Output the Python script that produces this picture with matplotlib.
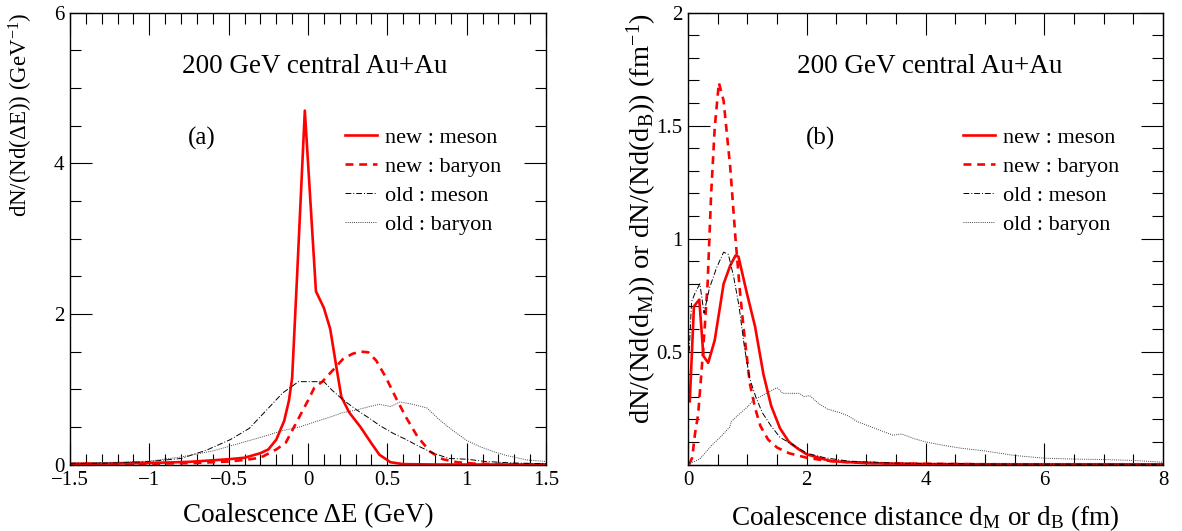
import matplotlib
matplotlib.use('Agg')
import matplotlib.pyplot as plt
from matplotlib.ticker import MultipleLocator, FixedLocator, FixedFormatter

plt.rcParams['font.family'] = ['Liberation Serif', 'DejaVu Serif']
plt.rcParams['mathtext.fontset'] = 'custom'
plt.rcParams['mathtext.rm'] = 'Liberation Serif'
plt.rcParams['mathtext.it'] = 'Liberation Serif:italic'
plt.rcParams['axes.unicode_minus'] = True

# (a) coalescence energy difference
de_new_meson_x = [-1.5, -1.25, -1.0, -0.75, -0.5, -0.4, -0.3, -0.25, -0.2, -0.15, -0.12, -0.1, -0.07,
                  -0.02, 0.05, 0.1, 0.14, 0.18, 0.21, 0.26, 0.33, 0.4, 0.45, 0.52, 0.6, 0.8, 1.0, 1.25, 1.5]
de_new_meson_y = [0.01, 0.012, 0.02, 0.035, 0.07, 0.09, 0.15, 0.2, 0.33, 0.58, 0.85, 1.15, 2.45,
                  4.7, 2.3, 2.08, 1.8, 1.28, 0.9, 0.69, 0.5, 0.28, 0.13, 0.03, 0.005, 0.0, 0.0, 0.0, 0.0]

de_new_baryon_x = [-1.5, -1.0, -0.7, -0.5, -0.4, -0.3, -0.2, -0.14, -0.1, -0.05, 0.0, 0.04, 0.09, 0.16,
                   0.22, 0.28, 0.33, 0.38, 0.43, 0.49, 0.56, 0.62, 0.69, 0.77, 0.85, 0.94, 1.05, 1.2, 1.5]
de_new_baryon_y = [0.005, 0.01, 0.02, 0.04, 0.06, 0.09, 0.2, 0.29, 0.45, 0.65, 0.85, 1.02, 1.1, 1.26,
                   1.4, 1.47, 1.5, 1.49, 1.38, 1.16, 0.86, 0.62, 0.37, 0.17, 0.07, 0.03, 0.012, 0.005, 0.002]

de_old_meson_x = [-1.5, -1.25, -1.0, -0.8, -0.64, -0.49, -0.37, -0.24, -0.16, -0.06, 0.1, 0.15, 0.22,
                  0.31, 0.39, 0.45, 0.54, 0.62, 0.7, 0.79, 0.89, 1.0, 1.12, 1.29, 1.5]
de_old_meson_y = [0.01, 0.02, 0.04, 0.08, 0.19, 0.33, 0.48, 0.77, 0.95, 1.1, 1.1, 0.99, 0.86,
                  0.72, 0.61, 0.52, 0.41, 0.33, 0.24, 0.15, 0.08, 0.07, 0.04, 0.02, 0.01]

de_old_baryon_x = [-1.5, -1.2, -1.0, -0.8, -0.6, -0.45, -0.3, -0.16, -0.05, 0.05, 0.14, 0.22, 0.3, 0.37,
                   0.45, 0.52, 0.58, 0.66, 0.75, 0.83, 0.92, 1.0, 1.08, 1.17, 1.25, 1.38, 1.5]
de_old_baryon_y = [0.02, 0.03, 0.045, 0.1, 0.18, 0.27, 0.36, 0.45, 0.5, 0.57, 0.63, 0.69, 0.72, 0.76,
                   0.8, 0.77, 0.83, 0.8, 0.75, 0.59, 0.44, 0.32, 0.24, 0.17, 0.12, 0.06, 0.04]

# (b) coalescence distance
d_new_meson_x = [0.03, 0.1, 0.19, 0.26, 0.34, 0.45, 0.6, 0.71, 0.8, 0.85, 0.99, 1.13, 1.27, 1.4, 1.55,
                 1.7, 1.85, 2.0, 2.4, 3.0, 4.0, 5.0, 6.0, 7.0, 8.0]
d_new_meson_y = [0.28, 0.70, 0.73, 0.48, 0.45, 0.55, 0.80, 0.88, 0.925, 0.92, 0.76, 0.61, 0.40, 0.26, 0.16,
                 0.10, 0.07, 0.045, 0.015, 0.006, 0.002, 0.001, 0.001, 0.001, 0.001]

d_new_baryon_x = [0.02, 0.07, 0.12, 0.17, 0.23, 0.28, 0.33, 0.39, 0.45, 0.52, 0.6, 0.66, 0.71, 0.8, 0.87,
                  0.93, 1.04, 1.13, 1.22, 1.35, 1.5, 1.7, 2.0, 2.3, 2.7, 3.5, 5.0, 8.0]
d_new_baryon_y = [0.0, 0.03, 0.14, 0.22, 0.42, 0.6, 0.8, 1.2, 1.49, 1.69, 1.61, 1.45, 1.32, 1.0, 0.78,
                  0.62, 0.36, 0.25, 0.17, 0.11, 0.075, 0.05, 0.03, 0.018, 0.01, 0.004, 0.001, 0.0]

d_old_meson_x = [0.02, 0.06, 0.12, 0.2, 0.27, 0.36, 0.48, 0.6, 0.68, 0.77, 0.86, 0.95, 1.04, 1.14, 1.25,
                 1.4, 1.55, 1.75, 2.0, 2.3, 2.7, 3.5, 5.0, 8.0]
d_old_meson_y = [0.5, 0.72, 0.76, 0.8, 0.67, 0.78, 0.87, 0.94, 0.93, 0.83, 0.7, 0.52, 0.38, 0.3, 0.23,
                 0.17, 0.12, 0.09, 0.05, 0.03, 0.015, 0.006, 0.002, 0.001]

d_old_baryon_x = [0.0, 0.1, 0.2, 0.3, 0.4, 0.54, 0.7, 0.73, 0.85, 1.0, 1.12, 1.22, 1.35, 1.5, 1.6, 1.75,
                  1.88, 1.95, 2.05, 2.2, 2.35, 2.55, 2.7, 2.85, 3.0, 3.2, 3.45, 3.6, 3.8, 4.0, 4.3, 4.6,
                  5.0, 5.5, 6.0, 6.5, 7.0, 7.5, 8.0]
d_old_baryon_y = [0.005, 0.012, 0.025, 0.055, 0.085, 0.12, 0.165, 0.19, 0.22, 0.255, 0.29, 0.30, 0.32,
                  0.34, 0.315, 0.315, 0.315, 0.3, 0.305, 0.27, 0.245, 0.23, 0.215, 0.19, 0.175, 0.155,
                  0.13, 0.135, 0.115, 0.1, 0.085, 0.072, 0.06, 0.04, 0.028, 0.024, 0.022, 0.018, 0.01]

labels = ['new : meson', 'new : baryon', 'old : meson', 'old : baryon']

fig = plt.figure(figsize=(11.82, 5.31), dpi=100)
ax1 = fig.add_axes([70 / 1182, 66.5 / 531, 476 / 1182, 451.8 / 531])
ax2 = fig.add_axes([688 / 1182, 66.5 / 531, 475 / 1182, 451.8 / 531])


def draw_curves(ax, nm, nb, om, ob):
    ax.plot(nm[0], nm[1], color='red', lw=1.9, label=labels[0])
    ax.plot(nb[0], nb[1], color='red', lw=1.9, ls=(0, (3, 2.2)), label=labels[1])
    ax.plot(om[0], om[1], color='black', lw=0.7, ls=(0, (6, 2, 1, 2)), label=labels[2])
    ax.plot(ob[0], ob[1], color='#444444', lw=0.7, ls=(0, (1, 1.2)), label=labels[3])


draw_curves(ax1, (de_new_meson_x, de_new_meson_y), (de_new_baryon_x, de_new_baryon_y),
            (de_old_meson_x, de_old_meson_y), (de_old_baryon_x, de_old_baryon_y))
draw_curves(ax2, (d_new_meson_x, d_new_meson_y), (d_new_baryon_x, d_new_baryon_y),
            (d_old_meson_x, d_old_meson_y), (d_old_baryon_x, d_old_baryon_y))

ax1.set_xlim(-1.5, 1.5)
ax1.set_ylim(0, 6)
ax1.set_xticks([-1.5, -1, -0.5, 0, 0.5, 1, 1.5], ['\u22121.5', '\u22121', '\u22120.5', '0', '0.5', '1', '1.5'])
ax1.xaxis.set_minor_locator(MultipleLocator(0.1))
ax1.yaxis.set_major_locator(MultipleLocator(2))
ax1.yaxis.set_minor_locator(MultipleLocator(0.5))

ax2.set_xlim(0, 8)
ax2.set_ylim(0, 2)
ax2.xaxis.set_major_locator(MultipleLocator(2))
ax2.xaxis.set_minor_locator(MultipleLocator(0.5))
ax2.yaxis.set_major_locator(FixedLocator([0, 0.5, 1, 1.5, 2]))
ax2.yaxis.set_major_formatter(FixedFormatter(['', '0.5', '1', '1.5', '2']))
ax2.yaxis.set_minor_locator(MultipleLocator(0.1))

for ax in (ax1, ax2):
    ax.tick_params(which='both', direction='in', top=True, right=True, labelsize=15, width=0.8)
    ax.tick_params(which='major', length=16)
    ax.tick_params(which='minor', length=8)
    ax.tick_params(axis='x', pad=5)
    ax.tick_params(axis='y', pad=4)
    for s in ax.spines.values():
        s.set_linewidth(1.0)
    ax.legend(loc='upper left', bbox_to_anchor=(0.578, 0.746), frameon=False, fontsize=16,
              handlelength=1.45, handletextpad=0.35, labelspacing=0.38, borderpad=0, borderaxespad=0)

ax1.text(0.515, 0.88, '200 GeV central Au+Au', transform=ax1.transAxes, ha='center', va='center', fontsize=19.5)
ax2.text(0.509, 0.88, '200 GeV central Au+Au', transform=ax2.transAxes, ha='center', va='center', fontsize=19.5)
ax1.text(0.277, 0.722, '(a)', transform=ax1.transAxes, ha='center', va='center', fontsize=18)
ax2.text(0.278, 0.722, '(b)', transform=ax2.transAxes, ha='center', va='center', fontsize=18)

ax1.set_xlabel('Coalescence \u0394E (GeV)', fontsize=19.5)
ax2.set_xlabel(r'Coalescence distance d$_\mathrm{M}$ or d$_\mathrm{B}$ (fm)', fontsize=19.5)
ax1.set_ylabel('dN/(Nd(\u0394E)) (GeV$^{-1}$)', fontsize=16.5, loc='top')
ax2.set_ylabel(r'dN/(Nd(d$_\mathrm{M}$)) or dN/(Nd(d$_\mathrm{B}$)) (fm$^{-1}$)', fontsize=20.5, loc='top')
ax1.xaxis.set_label_coords(0.5, -0.085)
ax2.xaxis.set_label_coords(0.5, -0.085)
ax1.yaxis.set_label_coords(-0.074, 1.0)
ax2.yaxis.set_label_coords(-0.062, 1.0)

fig.savefig('out.png', dpi=100)
